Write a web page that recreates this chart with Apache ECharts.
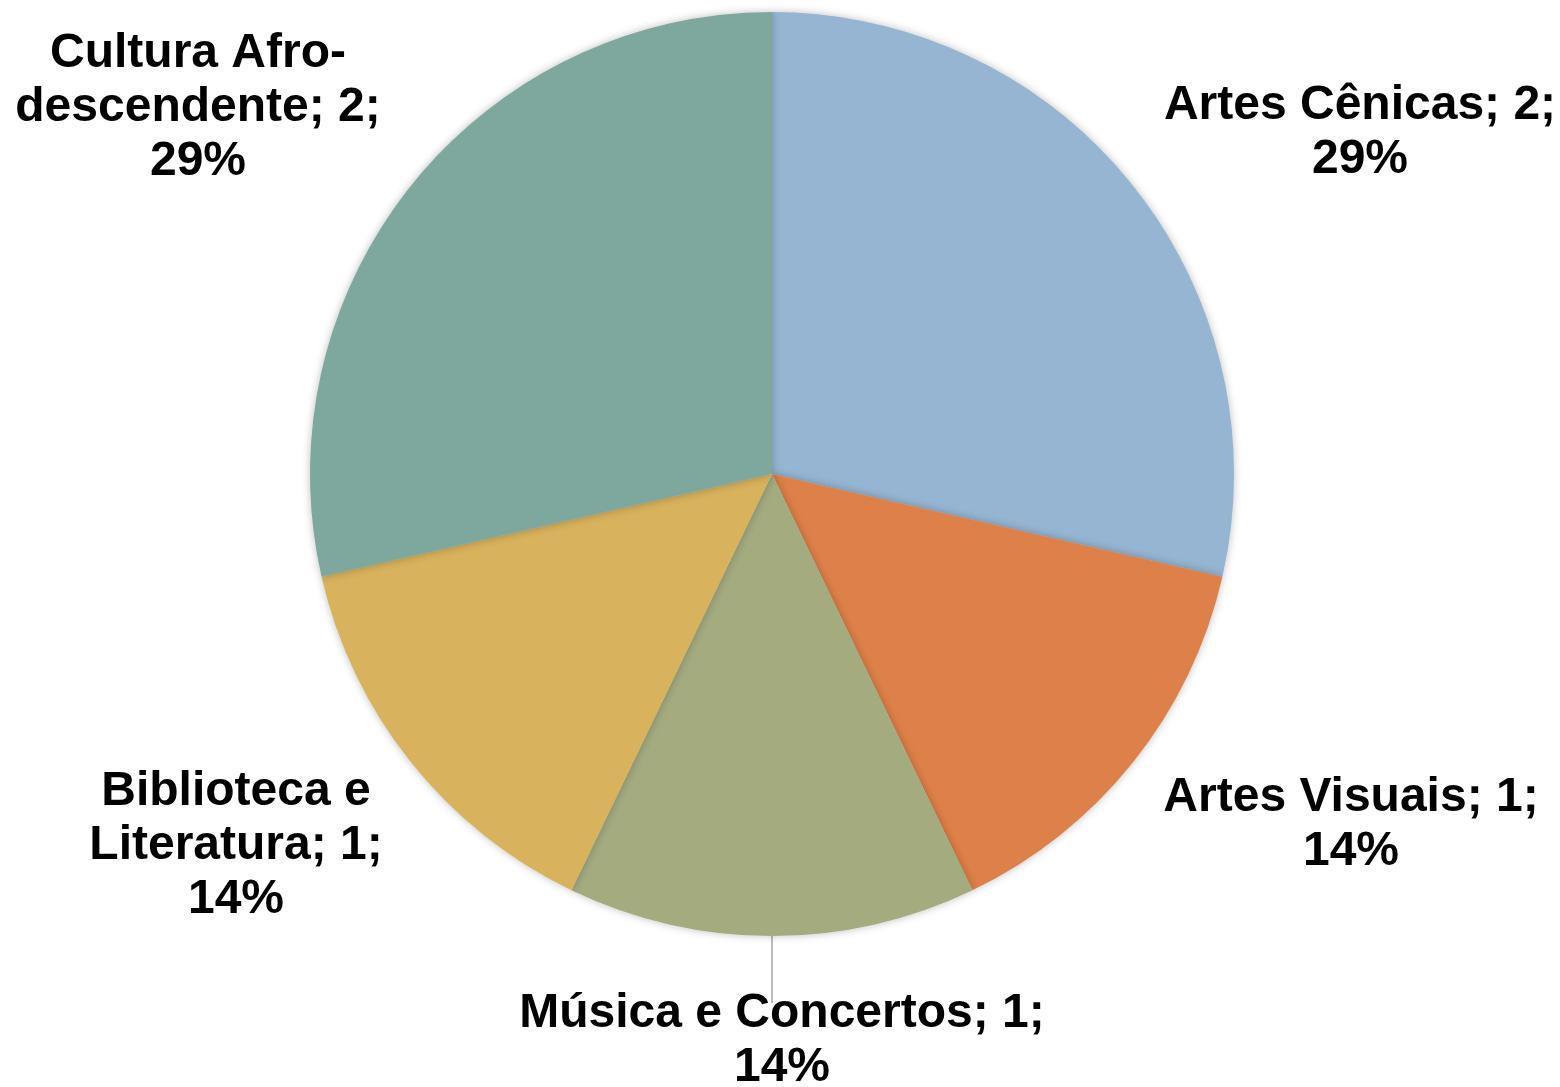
<!DOCTYPE html>
<html>
<head>
<meta charset="utf-8">
<script src="https://cdn.jsdelivr.net/npm/echarts@6/dist/echarts.min.js"></script>
<style>
html,body{margin:0;padding:0;background:#fff;}
#chart{width:1560px;height:1087px;}
</style>
</head>
<body>
<div id="chart"></div>
<script>
// Data
var categories = ['Artes Cênicas', 'Artes Visuais', 'Música e Concertos', 'Biblioteca e Literatura', 'Cultura Afro-descendente'];
var values = [2, 1, 1, 1, 2];
// How each category name wraps in its label
var labelNames = ['Artes Cênicas', 'Artes Visuais', 'Música e Concertos', 'Biblioteca e\nLiteratura', 'Cultura Afro-\ndescendente'];

// Styles / layout
var colors = ['#95B5D3', '#DE8049', '#A4AB7F', '#D8B25C', '#7EA79D'];
var center = [772, 474];
var radius = 462;
var labelPos = [
  [1360, 133],
  [1351, 825],
  [782, 1041],
  [236, 846],
  [198, 108]
];
var leaderEndY = 1003;

var chart = echarts.init(document.getElementById('chart'), null, {renderer: 'canvas'});

var data = categories.map(function (c, i) {
  return {
    name: c,
    value: values[i],
    itemStyle: {color: colors[i]},
    labelLine: {show: i === 2}
  };
});

chart.setOption({
  animation: false,
  series: [{
    type: 'pie',
    center: center,
    radius: [0, radius],
    startAngle: 90,
    clockwise: true,
    data: data,
    itemStyle: {
      shadowBlur: 8,
      shadowColor: 'rgba(0,0,0,0.25)',
      borderWidth: 0
    },
    emphasis: {disabled: true},
    label: {
      show: true,
      position: 'outside',
      color: '#000',
      fontFamily: 'Liberation Sans, Arial, sans-serif',
      fontWeight: 'bold',
      fontSize: 48,
      lineHeight: 54,
      align: 'center',
      formatter: function (p) {
        return labelNames[p.dataIndex] + '; ' + p.value + ';\n' + Math.round(p.percent) + '%';
      }
    },
    labelLine: {
      show: false,
      lineStyle: {color: '#A6A6A6', width: 1.5},
      length: 20,
      length2: 0
    },
    labelLayout: function (params) {
      var pos = labelPos[params.dataIndex];
      var opt = {x: pos[0], y: pos[1], align: 'center', verticalAlign: 'middle'};
      if (params.dataIndex === 2) {
        var bottom = center[1] + radius;
        opt.labelLinePoints = [[center[0], bottom], [center[0], (bottom + leaderEndY) / 2], [center[0], leaderEndY]];
      }
      return opt;
    }
  }]
});
</script>
</body>
</html>
